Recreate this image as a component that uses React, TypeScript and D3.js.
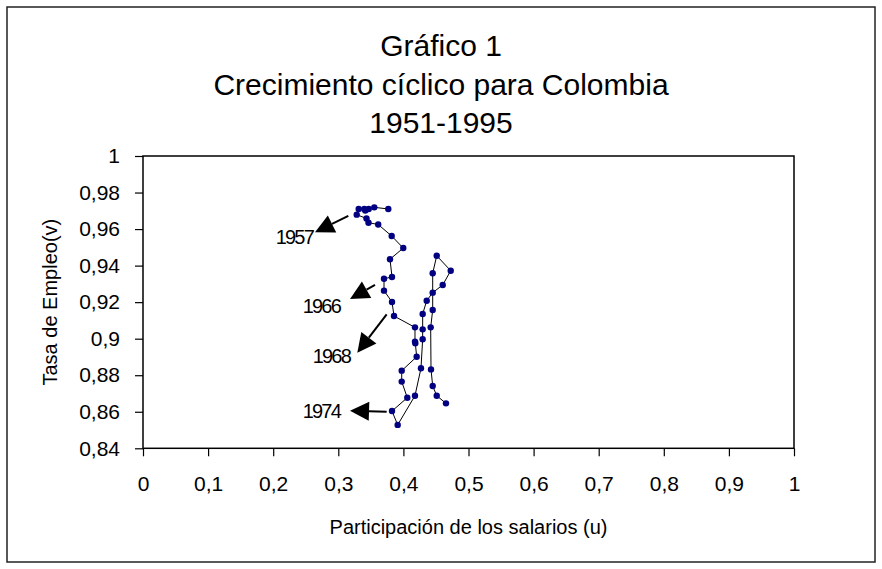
import { useEffect, useRef } from 'react';
import * as d3 from 'd3';

// participación de los salarios (u), 1951-1995
const wageShare = [
  0.3768, 0.3553, 0.3467, 0.3415, 0.3399, 0.3313, 0.3283, 0.3433, 0.3464, 0.3613,
  0.382, 0.3998, 0.3794, 0.3825, 0.3702, 0.3702, 0.3825, 0.3856, 0.4178, 0.4178,
  0.4183, 0.4204, 0.3974, 0.3974, 0.406, 0.3825, 0.3912, 0.4178, 0.427, 0.4296,
  0.4296, 0.4296, 0.4358, 0.445, 0.4604, 0.4727, 0.4512, 0.445, 0.445, 0.4419,
  0.4424, 0.445, 0.4512, 0.4654,
];

// tasa de empleo (v)
const employmentRate = [
  0.971, 0.9719, 0.971, 0.9701, 0.971, 0.971, 0.9679, 0.9658, 0.9635, 0.9625,
  0.9562, 0.9496, 0.9435, 0.9338, 0.9328, 0.9263, 0.9201, 0.9124, 0.9062, 0.8984,
  0.8975, 0.8901, 0.8825, 0.8765, 0.8677, 0.8604, 0.8528, 0.8688, 0.8838, 0.8997,
  0.9051, 0.9135, 0.9208, 0.9252, 0.9294, 0.9372, 0.9454, 0.9358, 0.9157, 0.9062,
  0.8832, 0.8741, 0.8688, 0.8646,
];

const xTicks = [0, 0.1, 0.2, 0.3, 0.4, 0.5, 0.6, 0.7, 0.8, 0.9, 1];
const yTicks = [0.84, 0.86, 0.88, 0.9, 0.92, 0.94, 0.96, 0.98, 1];

const titleLines = ['Gráfico 1', 'Crecimiento cíclico para Colombia', '1951-1995'];
const xTitle = 'Participación de los salarios (u)';
const yTitle = 'Tasa de Empleo(v)';

// arrow annotations, in data units
const noteYears = ['1957', '1966', '1968', '1974'];
const noteTailU = [0.3154, 0.3564, 0.3743, 0.3743];
const noteTailV = [0.9672, 0.9294, 0.9133, 0.86];
const noteTipU = [0.2642, 0.318, 0.3292, 0.318];
const noteTipV = [0.9582, 0.9217, 0.8923, 0.8606];
const noteLabelU = [0.2611, 0.3026, 0.318, 0.3026];
const noteLabelV = [0.9518, 0.9141, 0.8867, 0.8567];

const FONT = '"Liberation Sans", Arial, sans-serif';

export default function App() {
  const svgRef = useRef<SVGSVGElement | null>(null);

  useEffect(() => {
    const svg = svgRef.current;
    if (!svg) return;

    const width = 882;
    const height = 569;
    const plot = { left: 143, right: 794, top: 156, bottom: 448.3 };

    const x = d3.scaleLinear().domain([0, 1]).range([plot.left, plot.right]);
    const y = d3.scaleLinear().domain([0.84, 1]).range([plot.bottom, plot.top]);
    const fmt = (d: number) => String(d).replace('.', ',');

    const root = d3.select(svg);
    root.attr('viewBox', `0 0 ${width} ${height}`);
    root.selectAll('*').remove();

    root
      .append('rect')
      .attr('x', 7)
      .attr('y', 7)
      .attr('width', 868)
      .attr('height', 555)
      .attr('fill', '#fff')
      .attr('stroke', '#222')
      .attr('stroke-width', 1.5);

    root
      .append('g')
      .selectAll('text')
      .data(titleLines)
      .join('text')
      .attr('x', 441)
      .attr('y', (_, i) => 56 + i * 38.5)
      .attr('text-anchor', 'middle')
      .attr('font-family', FONT)
      .attr('font-size', 30)
      .attr('fill', '#000')
      .text((d) => d);

    // frame of the plot area
    root
      .append('rect')
      .attr('x', plot.left)
      .attr('y', plot.top)
      .attr('width', plot.right - plot.left)
      .attr('height', plot.bottom - plot.top)
      .attr('fill', 'none')
      .attr('stroke', '#000')
      .attr('stroke-width', 1.5);

    root
      .append('g')
      .attr('transform', `translate(0,${plot.bottom})`)
      .call(d3.axisBottom(x).tickValues(xTicks).tickSize(8).tickPadding(20).tickFormat((d) => fmt(d as number)))
      .call((g) => g.select('.domain').remove())
      .call((g) => g.selectAll('line').attr('stroke', '#000').attr('stroke-width', 1.2))
      .call((g) =>
        g.selectAll('text').attr('fill', '#000').attr('font-family', FONT).attr('font-size', 21)
      );

    root
      .append('g')
      .attr('transform', `translate(${plot.left},0)`)
      .call(d3.axisLeft(y).tickValues(yTicks).tickSize(8).tickPadding(15).tickFormat((d) => fmt(d as number)))
      .call((g) => g.select('.domain').remove())
      .call((g) => g.selectAll('line').attr('stroke', '#000').attr('stroke-width', 1.2))
      .call((g) =>
        g.selectAll('text').attr('fill', '#000').attr('font-family', FONT).attr('font-size', 21)
      );

    root
      .append('text')
      .attr('x', (plot.left + plot.right) / 2)
      .attr('y', 534)
      .attr('text-anchor', 'middle')
      .attr('font-family', FONT)
      .attr('font-size', 20)
      .text(xTitle);

    root
      .append('text')
      .attr('transform', `translate(57,${(plot.top + plot.bottom) / 2}) rotate(-90)`)
      .attr('text-anchor', 'middle')
      .attr('font-family', FONT)
      .attr('font-size', 20)
      .text(yTitle);

    const points = wageShare.map((u, i) => [u, employmentRate[i]] as [number, number]);

    const line = d3
      .line<[number, number]>()
      .x((d) => x(d[0]))
      .y((d) => y(d[1]));

    root
      .append('path')
      .datum(points)
      .attr('fill', 'none')
      .attr('stroke', '#000')
      .attr('stroke-width', 1)
      .attr('d', line);

    root
      .append('g')
      .selectAll('circle')
      .data(points)
      .join('circle')
      .attr('cx', (d) => x(d[0]))
      .attr('cy', (d) => y(d[1]))
      .attr('r', 3.2)
      .attr('fill', '#000080');

    // arrows with year labels
    const notes = root.append('g');
    noteYears.forEach((year, i) => {
      const tx = x(noteTipU[i]);
      const ty = y(noteTipV[i]);
      const sx = x(noteTailU[i]);
      const sy = y(noteTailV[i]);
      const ang = Math.atan2(ty - sy, tx - sx);
      const headLen = 19;
      const halfW = 9.5;
      const bx = tx - headLen * Math.cos(ang);
      const by = ty - headLen * Math.sin(ang);
      const nx = -Math.sin(ang);
      const ny = Math.cos(ang);

      notes
        .append('line')
        .attr('x1', sx)
        .attr('y1', sy)
        .attr('x2', bx)
        .attr('y2', by)
        .attr('stroke', '#000')
        .attr('stroke-width', 2);

      notes
        .append('polygon')
        .attr(
          'points',
          [
            [tx, ty],
            [bx + nx * halfW, by + ny * halfW],
            [bx - nx * halfW, by - ny * halfW],
          ]
            .map((p) => p.join(','))
            .join(' ')
        )
        .attr('fill', '#000');

      notes
        .append('text')
        .attr('x', x(noteLabelU[i]))
        .attr('y', y(noteLabelV[i]))
        .attr('text-anchor', 'end')
        .attr('font-family', FONT)
        .attr('font-size', 20)
        .attr('letter-spacing', -1.8)
        .text(year);
    });
  }, []);

  return (
    <svg
      ref={svgRef}
      width={882}
      height={569}
      style={{ position: 'absolute', left: 0, top: 0, display: 'block' }}
    />
  );
}
